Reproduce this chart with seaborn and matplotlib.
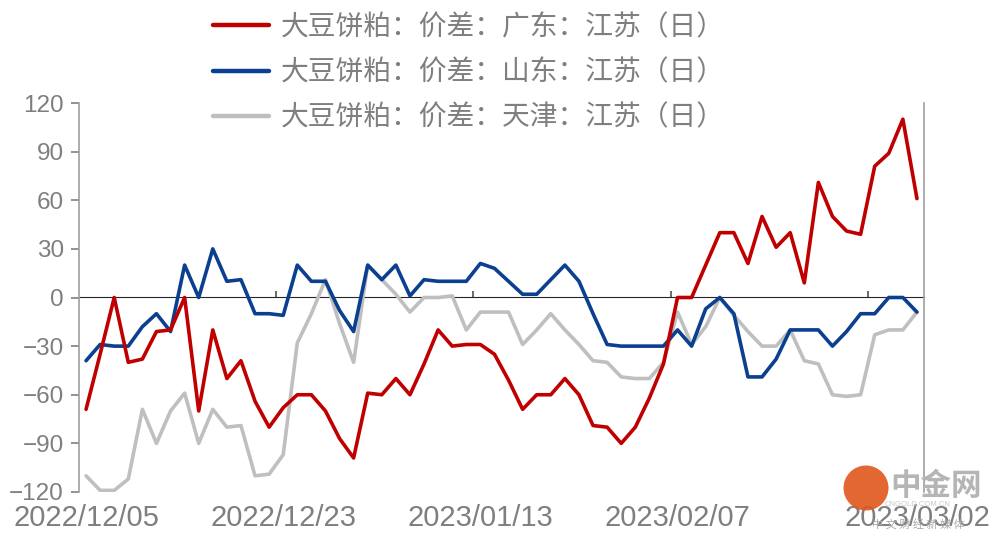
import numpy as np
import pandas as pd
import matplotlib
matplotlib.use('Agg')
import matplotlib.pyplot as plt
import seaborn as sns
from matplotlib.patches import Circle

# 价差数据（按交易日顺序，共60个点）
guangdong = [-69, -35, 0, -40, -38, -21, -20, 0, -70, -20,
             -50, -39, -64, -80, -68, -60, -60, -70, -87, -99,
             -59, -60, -50, -60, -41, -20, -30, -29, -29, -35,
             -51, -69, -60, -60, -50, -60, -79, -80, -90, -80,
             -62, -41, 0, 0, 20, 40, 40, 21, 50, 31,
             40, 9, 71, 50, 41, 39, 81, 89, 110, 61]
shandong = [-39, -29, -30, -30, -18, -10, -21, 20, 0, 30,
            10, 11, -10, -10, -11, 20, 10, 10, -8, -21,
            20, 11, 20, 1, 11, 10, 10, 10, 21, 18,
            10, 2, 2, 11, 20, 10, -10, -29, -30, -30,
            -30, -30, -20, -30, -7, 0, -10, -49, -49, -38,
            -20, -20, -20, -30, -21, -10, -10, 0, 0, -9]
tianjin = [-110, -119, -119, -112, -69, -90, -70, -59, -90, -69,
           -80, -79, -110, -109, -97, -28, -10, 11, -16, -40,
           20, 11, 2, -9, 0, 0, 1, -20, -9, -9,
           -9, -29, -20, -10, -20, -29, -39, -40, -49, -50,
           -50, -40, -9, -29, -18, 0, -11, -21, -30, -30,
           -20, -39, -41, -60, -61, -60, -23, -20, -20, -9]

label_pos = [0, 14, 28, 42, 59]
label_txt = ['2022/12/05', '2022/12/23', '2023/01/13', '2023/02/07', '2023/03/02']
tick_between = [13.5, 27.5, 41.5, 55.5]
y_ticks = [-120, -90, -60, -30, 0, 30, 60, 90, 120]

names = ['大豆饼粕：价差：广东：江苏（日）',
         '大豆饼粕：价差：山东：江苏（日）',
         '大豆饼粕：价差：天津：江苏（日）']
colors = ['#C00000', '#0B3F8F', '#BFBFBF']

df = pd.DataFrame({'idx': np.arange(len(guangdong)),
                   names[0]: guangdong, names[1]: shandong, names[2]: tianjin})

sns.set_style('white')
plt.rcParams['font.family'] = ['Liberation Sans', 'Noto Sans CJK SC', 'DejaVu Sans']
grey = '#7F7F7F'

fig = plt.figure(figsize=(9.97, 5.40), dpi=100)
ax = fig.add_axes([79 / 997, 1 - 492 / 540, (924 - 79) / 997, (492 - 103) / 540])

# 先画天津，再山东，最后广东（红线在最上层）
for name, c, z in zip(names[::-1], colors[::-1], [2, 3, 4]):
    sns.lineplot(data=df, x='idx', y=name, ax=ax, color=c, linewidth=2.6,
                 label=name, zorder=z, solid_capstyle='round', solid_joinstyle='round')

ax.set_xlim(-0.5, len(guangdong) - 0.5)
ax.set_ylim(-120, 120)
ax.set_xlabel('')
ax.set_ylabel('')

# 坐标轴样式
ax.spines['top'].set_visible(False)
ax.spines['bottom'].set_visible(False)
for s in ['left', 'right']:
    ax.spines[s].set_color('#A0A0A0')
    ax.spines[s].set_linewidth(1.2)
ax.set_yticks(y_ticks)
ax.tick_params(axis='y', left=True, length=6, width=1.2, color=grey, pad=5,
               labelsize=17.5, labelcolor=grey)
ax.set_xticks(label_pos)
ax.set_xticklabels(label_txt)
ax.tick_params(axis='x', bottom=True, length=0, pad=9, labelsize=21, labelcolor=grey)

# 零轴及刻度
zero_ax = ax.secondary_xaxis(0.5)
zero_ax.spines['bottom'].set_color('#6E6E6E')
zero_ax.spines['bottom'].set_linewidth(1.2)
zero_ax.set_xticks(tick_between)
zero_ax.set_xticklabels([])
zero_ax.tick_params(axis='x', length=4, width=1.2, color='#505050', direction='out')

# 图例
handles, labels = ax.get_legend_handles_labels()
order = [2, 1, 0]
leg = fig.legend([handles[i] for i in order], [labels[i] for i in order],
                 loc='upper left', bbox_to_anchor=(213 / 997, 1 - 12 / 540),
                 frameon=False, prop={'family': 'Noto Sans CJK SC', 'size': 20},
                 handlelength=2.0, handletextpad=0.45, labelspacing=0.55,
                 borderpad=0, borderaxespad=0)
for t in leg.get_texts():
    t.set_color(grey)
for h in leg.get_lines():
    h.set_linewidth(3.2)
    h.set_solid_capstyle('round')
if ax.get_legend():
    ax.get_legend().remove()

# 水印
fig.patches.append(Circle((866 / 100, (540 - 488) / 100), 0.225, transform=fig.dpi_scale_trans,
                          facecolor='#E0561C', edgecolor='none', alpha=0.9, zorder=0))
fig.text(890 / 997, 1 - 486 / 540, '中金网', family='Noto Sans CJK SC', fontsize=22,
         color='#B5B5B5', va='center', ha='left', weight='bold')
fig.text(918 / 997, 1 - 505 / 540, 'CNGOLD.COM.CN', fontsize=5.5, color='#C8C8C8',
         va='center', ha='center')
fig.text(918 / 997, 1 - 524 / 540, '中 文 财 经 新 媒 体', family='Noto Sans CJK SC',
         fontsize=8, color='#A8A8A8', va='center', ha='center')

fig.savefig('out.png', dpi=100)
